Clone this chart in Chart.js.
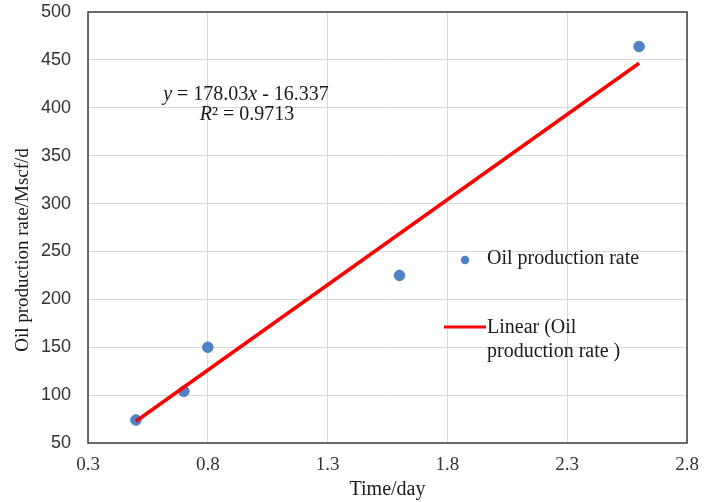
<!DOCTYPE html>
<html>
<head>
<meta charset="utf-8">
<script src="https://cdn.jsdelivr.net/npm/chart.js@4/dist/chart.umd.min.js"></script>
<style>
  html, body { margin: 0; padding: 0; background: #fff; }
  #wrap { width: 712px; height: 502px; }
</style>
</head>
<body>
<div id="wrap"><canvas id="myChart" width="712" height="502"></canvas></div>
<script>
var timeDays = [0.5, 0.7, 0.8, 1.6, 2.6];
var oilRate = [74, 104, 150, 225, 464];
var trendX = [0.5, 2.6];
var trendY = [72.7, 446.5];
var xTicks = [0.3, 0.8, 1.3, 1.8, 2.3, 2.8];
var yTicks = [50, 100, 150, 200, 250, 300, 350, 400, 450, 500];

var serif = "'Liberation Serif', 'Times New Roman', serif";
var sans = "'Liberation Sans', Arial, sans-serif";

function drawParts(ctx, parts, cx, cy) {
    var total = 0;
    parts.forEach(function (p) {
        ctx.font = (p.i ? "italic " : "") + "20px " + serif;
        total += ctx.measureText(p.t).width;
    });
    var x = cx - total / 2;
    parts.forEach(function (p) {
        ctx.font = (p.i ? "italic " : "") + "20px " + serif;
        ctx.fillText(p.t, x, cy);
        x += ctx.measureText(p.t).width;
    });
}

var extras = {
    id: "extras",
    afterDraw: function (chart) {
        var ctx = chart.ctx;
        var a = chart.chartArea;
        ctx.save();
        // frame
        ctx.strokeStyle = "#404040";
        ctx.lineWidth = 1.5;
        ctx.strokeRect(a.left, a.top, a.right - a.left, a.bottom - a.top);

        ctx.fillStyle = "#1a1a1a";
        ctx.textBaseline = "middle";
        ctx.textAlign = "left";
        // equation
        drawParts(ctx, [{t: "y", i: true}, {t: " = 178.03"}, {t: "x", i: true}, {t: " - 16.337"}], 246, 95);
        drawParts(ctx, [{t: "R", i: true}, {t: "² = 0.9713"}], 247, 115);

        // legend
        ctx.fillStyle = "#4f81c4";
        ctx.beginPath();
        ctx.arc(465, 260, 4.2, 0, Math.PI * 2);
        ctx.fill();
        ctx.strokeStyle = "#ff0000";
        ctx.lineWidth = 3;
        ctx.beginPath();
        ctx.moveTo(444, 327);
        ctx.lineTo(486, 327);
        ctx.stroke();
        ctx.fillStyle = "#1a1a1a";
        ctx.font = "20px " + serif;
        ctx.fillText("Oil production rate", 487, 259);
        ctx.fillText("Linear (Oil", 487, 328);
        ctx.fillText("production rate )", 487, 352);

        // y axis title
        ctx.translate(23, 250);
        ctx.rotate(-Math.PI / 2);
        ctx.textAlign = "center";
        ctx.font = "19px " + serif;
        ctx.fillText("Oil production rate/Mscf/d", 0, 0);
        ctx.restore();
    }
};

var ctx = document.getElementById("myChart").getContext("2d");

var myNewChart = new Chart(ctx, {
    type: "scatter",
    data: {
        datasets: [{
            label: "Oil production rate",
            data: timeDays.map(function (x, i) { return {x: x, y: oilRate[i]}; }),
            backgroundColor: "#4f81c4",
            borderColor: "#4f81c4",
            pointRadius: 5.3,
            order: 2
        }, {
            label: "Linear (Oil production rate )",
            type: "line",
            data: trendX.map(function (x, i) { return {x: x, y: trendY[i]}; }),
            borderColor: "#ff0000",
            borderWidth: 3.5,
            pointRadius: 0,
            fill: false,
            order: 1
        }]
    },
    options: {
        responsive: false,
        animation: false,
        layout: { padding: { left: 0, top: 12, right: 25, bottom: 0 } },
        plugins: {
            legend: { display: false },
            tooltip: { enabled: false }
        },
        scales: {
            x: {
                type: "linear",
                min: 0.3,
                max: 2.8,
                afterBuildTicks: function (scale) {
                    scale.ticks = xTicks.map(function (v) { return {value: v}; });
                },
                afterFit: function (scale) { scale.height = 59; },
                grid: { color: "#d9d9d9", drawTicks: false },
                border: { display: false },
                ticks: {
                    padding: 11,
                    color: "#333",
                    font: { family: serif, size: 19 },
                    callback: function (v) { return Number(v).toFixed(1); }
                },
                title: {
                    display: true,
                    text: "Time/day",
                    color: "#1a1a1a",
                    font: { family: serif, size: 20 },
                    padding: { top: 0, bottom: 0 }
                }
            },
            y: {
                min: 50,
                max: 500,
                afterBuildTicks: function (scale) {
                    scale.ticks = yTicks.map(function (v) { return {value: v}; });
                },
                afterFit: function (scale) {
                    scale.width = 88;
                    scale.paddingTop = 0;
                    scale.paddingBottom = 0;
                },
                grid: { color: "#d9d9d9", drawTicks: false },
                border: { display: false },
                ticks: {
                    padding: 17,
                    color: "#333",
                    font: { family: sans, size: 18 }
                }
            }
        }
    },
    plugins: [extras]
});
</script>
</body>
</html>
